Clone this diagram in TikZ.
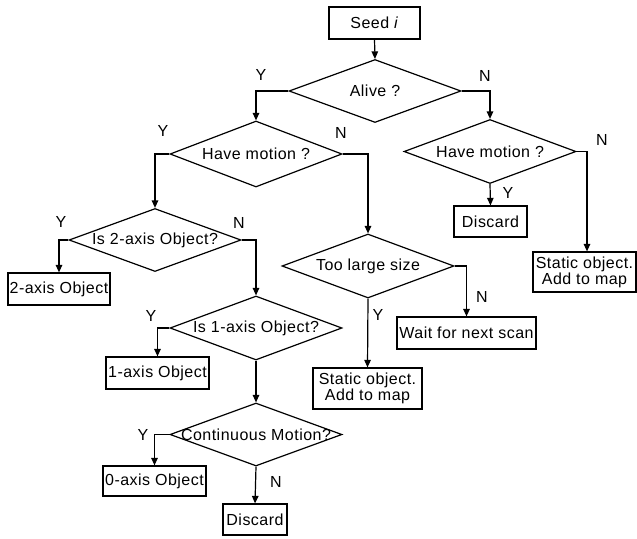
\documentclass[tikz,border=0pt]{standalone}
\usepackage{fontspec}
\setmainfont{Liberation Sans}[LetterSpace=3]
\usetikzlibrary{shapes.geometric,arrows.meta}
\begin{document}
\begin{tikzpicture}[x=1pt,y=-1pt,
  every node/.style={font=\fontsize{16}{16}\selectfont},
  box/.style={draw,line width=1.2pt,rectangle,inner sep=0pt,align=center},
  dia/.style={draw,line width=1.2pt,diamond,inner sep=0pt},
  txt/.style={inner sep=0pt,align=center},
  lbl/.style={inner sep=0pt},
  arr/.style={line width=1.2pt,-{Triangle[length=7.5pt,width=6.5pt]}}]
\useasboundingbox (0,0) rectangle (637,538);
% boxes
\node[box,minimum width=91pt,minimum height=32pt] (seed) at (374.5,23) {Seed \textit{i}};
\node[box,minimum width=102pt,minimum height=32pt] (ax2) at (59,289) {2-axis Object};
\node[box,minimum width=103pt,minimum height=32pt] (ax1) at (157.5,373) {1-axis Object};
\node[box,minimum width=103pt,minimum height=30pt] (ax0) at (154.5,481) {0-axis Object};
\node[box,minimum width=64pt,minimum height=31pt] (disc1) at (255,519.5) {Discard};
\node[box,minimum width=109pt,minimum height=41pt] (stat1) at (367.5,388.5) {Static object.\\Add to map};
\node[box,minimum width=139pt,minimum height=32pt] (wait) at (466.5,333) {Wait for next scan};
\node[box,minimum width=73pt,minimum height=31pt] (disc2) at (490.5,221.5) {Discard};
\node[box,minimum width=103pt,minimum height=40pt] (stat2) at (584.5,272) {Static object.\\Add to map};
% diamonds
\node[dia,minimum width=172pt,minimum height=63pt] (alive) at (375,91) {};
\node[txt] (talive) at (alive) {Alive ?};
\node[dia,minimum width=172pt,minimum height=66pt] (hm1) at (256,154) {};
\node[txt] (thm1) at (hm1) {Have motion ?};
\node[dia,minimum width=172pt,minimum height=64pt] (hm2) at (490,151.5) {};
\node[txt] (thm2) at (hm2) {Have motion ?};
\node[dia,minimum width=172pt,minimum height=63pt] (is2) at (155,240) {};
\node[txt] (tis2) at (is2) {Is 2-axis Object?};
\node[dia,minimum width=172pt,minimum height=64pt] (is1) at (256,328) {};
\node[txt] (tis1) at (is1) {Is 1-axis Object?};
\node[dia,minimum width=172pt,minimum height=63pt] (cont) at (256,434.5) {};
\node[txt] (tcont) at (cont) {Continuous Motion?};
\node[dia,minimum width=172pt,minimum height=64pt] (tls) at (368,266) {};
\node[txt] (ttls) at (tls) {Too large size};
% connectors
\draw[arr] (seed.south) -- (alive.north);
\draw[arr] (alive.west) -| (hm1.north);
\draw[arr] (alive.east) -| (hm2.north);
\draw[arr] (hm1.west) -| (is2.north);
\draw[arr] (hm1.east) -| (tls.north);
\draw[arr] (hm2.south) -- (disc2.north);
\draw[arr] (hm2.east) -| ([xshift=2.5pt]stat2.north);
\draw[arr] (is2.west) -| (ax2.north);
\draw[arr] (is2.east) -| (is1.north);
\draw[arr] (is1.west) -| (ax1.north);
\draw[arr] (is1.south) -- (cont.north);
\draw[arr] (cont.west) -| (ax0.north);
\draw[arr] (cont.south) -- (disc1.north);
\draw[arr] (tls.south) -- (stat1.north);
\draw[arr] (tls.east) -| (wait.north);
% labels
\node[lbl] (l1) at (261,75) {Y};
\node[lbl] (l2) at (485,76) {N};
\node[lbl] (l3) at (163,131) {Y};
\node[lbl] (l4) at (341,133) {N};
\node[lbl] (l5) at (602,140) {N};
\node[lbl] (l6) at (508,193) {Y};
\node[lbl] (l7) at (61,222) {Y};
\node[lbl] (l8) at (239,223) {N};
\node[lbl] (l9) at (151,316) {Y};
\node[lbl] (l10) at (378,315) {Y};
\node[lbl] (l11) at (482,297) {N};
\node[lbl] (l12) at (143,435) {Y};
\node[lbl] (l13) at (276,482) {N};
\end{tikzpicture}
\end{document}
